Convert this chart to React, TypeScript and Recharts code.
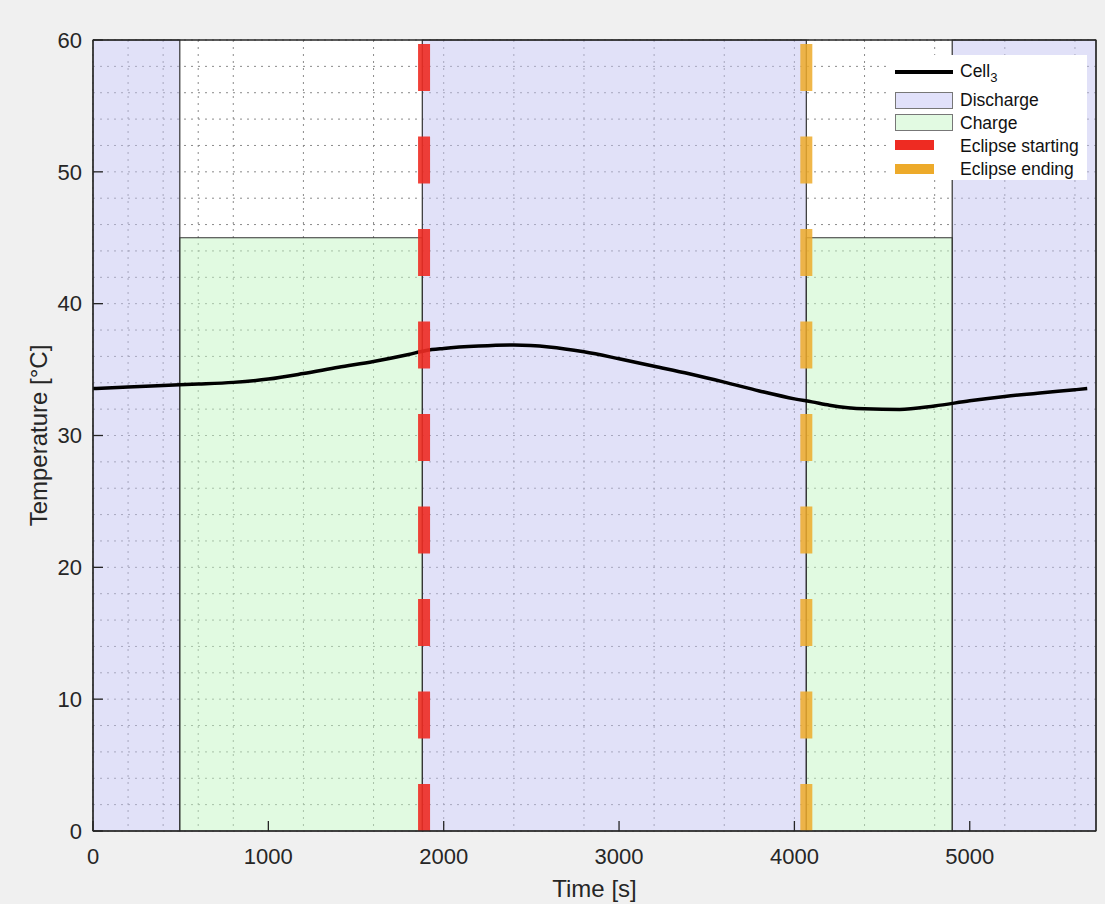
import React from 'react'
import {
  LineChart,
  Line,
  XAxis,
  YAxis,
  CartesianGrid,
  ReferenceArea,
  ReferenceLine,
  Legend,
} from 'recharts'

// time [s] and Cell3 temperature [°C]
const times = [
  0, 200, 400, 600, 800, 1000, 1200, 1400, 1600, 1800, 1900, 2000, 2200, 2400, 2600, 2800,
  3000, 3200, 3400, 3600, 3800, 4000, 4100, 4200, 4400, 4600, 4800, 5000, 5200, 5400, 5600, 5670,
]
const cell3 = [
  33.56, 33.68, 33.8, 33.9, 34.03, 34.28, 34.7, 35.18, 35.62, 36.15, 36.45, 36.6, 36.78, 36.86,
  36.72, 36.35, 35.82, 35.25, 34.68, 34.05, 33.38, 32.78, 32.55, 32.3, 32.02, 31.97, 32.24,
  32.63, 32.96, 33.23, 33.47, 33.56,
]

// operating phases [start, end, top]
const dischargePhases = [
  [0, 495, 60],
  [1878, 4068, 60],
  [4900, 5720, 60],
]
const chargePhases = [
  [495, 1878, 45],
  [4068, 4900, 45],
]
const eclipseStart = 1888
const eclipseEnd = 4068

const xTicks = [0, 1000, 2000, 3000, 4000, 5000]
const yTicks = [0, 10, 20, 30, 40, 50, 60]
const xGrid = [
  0, 200, 400, 600, 800, 1000, 1200, 1400, 1600, 1800, 2000, 2200, 2400, 2600, 2800, 3000,
  3200, 3400, 3600, 3800, 4000, 4200, 4400, 4600, 4800, 5000, 5200, 5400, 5600,
]
const yGrid = [
  0, 2, 4, 6, 8, 10, 12, 14, 16, 18, 20, 22, 24, 26, 28, 30, 32, 34, 36, 38, 40, 42, 44, 46,
  48, 50, 52, 54, 56, 58, 60,
]

const data = times.map((t, i) => ({ time: t, cell3: cell3[i] }))

const FONT = '"Liberation Sans", Arial, Helvetica, sans-serif'
const AXIS = '#262626'
const DISCHARGE = '#c4c4f2'
const CHARGE = '#c4f5c4'
const RED = '#ee2b22'
const ORANGE = '#edaa2a'

const tickStyle = { fontSize: 22, fill: AXIS, fontFamily: FONT }

function LegendBox() {
  const row = { position: 'absolute' as const, left: 70, fontSize: 17.5, color: '#111', lineHeight: '20px' }
  return (
    <div style={{ position: 'relative', width: 197, height: 125, background: '#fff', fontFamily: FONT }}>
      <div style={{ position: 'absolute', left: 5, top: 15, width: 58, height: 4, background: '#000' }} />
      <div style={{ ...row, top: 6 }}>
        Cell<sub style={{ fontSize: 13 }}>3</sub>
      </div>
      <div style={{ position: 'absolute', left: 5, top: 37, width: 56, height: 15, background: '#e1e1fa', border: '1px solid #777' }} />
      <div style={{ ...row, top: 35 }}>Discharge</div>
      <div style={{ position: 'absolute', left: 5, top: 59, width: 56, height: 15, background: '#e2fae2', border: '1px solid #777' }} />
      <div style={{ ...row, top: 58 }}>Charge</div>
      <div style={{ position: 'absolute', left: 5, top: 85, width: 39, height: 10, background: RED }} />
      <div style={{ ...row, top: 81 }}>Eclipse starting</div>
      <div style={{ position: 'absolute', left: 5, top: 109, width: 39, height: 10, background: ORANGE }} />
      <div style={{ ...row, top: 104 }}>Eclipse ending</div>
    </div>
  )
}

export default function App() {
  return (
    <div style={{ position: 'absolute', left: 0, top: 0, width: 1105, height: 904, background: '#f0f0f0' }}>
      <LineChart width={1105} height={904} data={data} margin={{ top: 39, right: 8, bottom: 0, left: 0 }}>
        <CartesianGrid
          fill="#ffffff"
          fillOpacity={1}
          stroke="#8a8a8a"
          strokeDasharray="2 5"
          verticalValues={xGrid}
          horizontalValues={yGrid}
        />
        <XAxis
          dataKey="time"
          type="number"
          domain={[0, 5720]}
          ticks={xTicks}
          allowDataOverflow
          height={73}
          tickSize={-10}
          tickMargin={27}
          tick={tickStyle}
          stroke={AXIS}
          strokeWidth={1.3}
          label={{ value: 'Time [s]', position: 'insideBottom', offset: 7, fontSize: 24, fill: AXIS, fontFamily: FONT }}
        />
        <XAxis
          xAxisId="top"
          orientation="top"
          dataKey="time"
          type="number"
          domain={[0, 5720]}
          ticks={xTicks}
          allowDataOverflow
          height={1}
          tickSize={-9}
          tick={false}
          stroke={AXIS}
          strokeWidth={1.3}
        />
        <YAxis
          type="number"
          domain={[0, 60]}
          ticks={yTicks}
          width={93}
          tickSize={-10}
          tickMargin={21}
          tick={tickStyle}
          stroke={AXIS}
          strokeWidth={1.3}
          label={{
            content: (p: any) => {
              const vb = p.viewBox || { x: 0, y: 40, width: 93, height: 791 }
              const cx = vb.x + 38
              const cy = vb.y + vb.height / 2
              return (
                <text
                  x={cx}
                  y={cy}
                  transform={`rotate(-90 ${cx} ${cy})`}
                  textAnchor="middle"
                  dominantBaseline="central"
                  fontSize={24}
                  fill={AXIS}
                  fontFamily={FONT}
                >
                  Temperature [°C]
                </text>
              )
            },
          }}
        />
        <YAxis
          yAxisId="right"
          orientation="right"
          type="number"
          domain={[0, 60]}
          ticks={yTicks}
          width={1}
          tickSize={-9}
          tick={false}
          stroke={AXIS}
          strokeWidth={1.3}
        />
        {dischargePhases.map(([a, b, top], i) => (
          <ReferenceArea
            key={'d' + i}
            x1={a}
            x2={b}
            y1={0}
            y2={top}
            fill={DISCHARGE}
            fillOpacity={0.5}
            stroke="#333"
            strokeWidth={1.2}
          />
        ))}
        {chargePhases.map(([a, b, top], i) => (
          <ReferenceArea
            key={'c' + i}
            x1={a}
            x2={b}
            y1={0}
            y2={top}
            fill={CHARGE}
            fillOpacity={0.5}
            stroke="#333"
            strokeWidth={1.2}
          />
        ))}
        <Line
          type="monotone"
          dataKey="cell3"
          stroke="#000"
          strokeWidth={3.5}
          dot={false}
          isAnimationActive={false}
        />
        <ReferenceLine x={eclipseStart} stroke={RED} strokeOpacity={0.9} strokeWidth={12} strokeDasharray="47 45.5" />
        <ReferenceLine x={eclipseEnd} stroke={ORANGE} strokeOpacity={0.85} strokeWidth={12} strokeDasharray="47 45.5" />
        <Legend
          layout="horizontal"
          align="center"
          verticalAlign="middle"
          content={() => <LegendBox />}
          wrapperStyle={{ position: 'absolute', left: 890, top: 55, width: 197, height: 125 }}
        />
      </LineChart>
    </div>
  )
}
